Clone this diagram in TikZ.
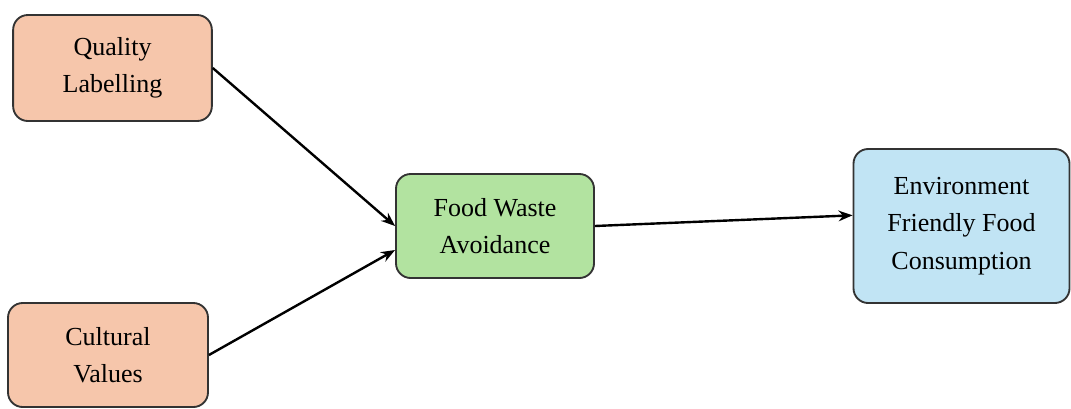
\documentclass[tikz,border=0pt]{standalone}
\usepackage{fontspec}
\setmainfont{Liberation Serif}
\usetikzlibrary{arrows.meta}

\definecolor{boxorange}{HTML}{F6C6AB}
\definecolor{boxgreen}{HTML}{B2E3A0}
\definecolor{boxblue}{HTML}{C1E4F4}
\definecolor{boxline}{HTML}{333333}

\begin{document}
\begin{tikzpicture}[x=0.75pt, y=-0.75pt, >={Stealth[length=10.5pt,width=8pt]},
    factor/.style={rectangle, rounded corners=11pt, draw=boxline, line width=1.4pt,
      align=center, font=\fontsize{19.5}{28}\selectfont, inner sep=0pt},
    link/.style={->, line width=1.8pt, black}]

  \useasboundingbox (0,0) rectangle (1071,408);

  % 自变量
  \node [factor, fill=boxorange, minimum width=149pt, minimum height=79.5pt] (quality) at (112.5,68) {Quality\\Labelling};
  \node [factor, fill=boxorange, minimum width=150pt, minimum height=78pt] (cultural) at (108,355) {Cultural\\Values};

  % 中介变量
  \node [factor, fill=boxgreen, minimum width=148.5pt, minimum height=78pt] (waste) at (495,226) {Food Waste\\Avoidance};

  % 因变量
  \node [factor, fill=boxblue, minimum width=162pt, minimum height=115.5pt] (consumption) at (961.5,226) {Environment\\Friendly Food\\Consumption};

  % 连接
  \draw [link] (quality.east) -- (waste.west);
  \draw [link] (cultural.east) -- ([yshift=-18pt]waste.west);
  \draw [link] (waste.east) -- ([yshift=8pt]consumption.west);

\end{tikzpicture}
\end{document}
